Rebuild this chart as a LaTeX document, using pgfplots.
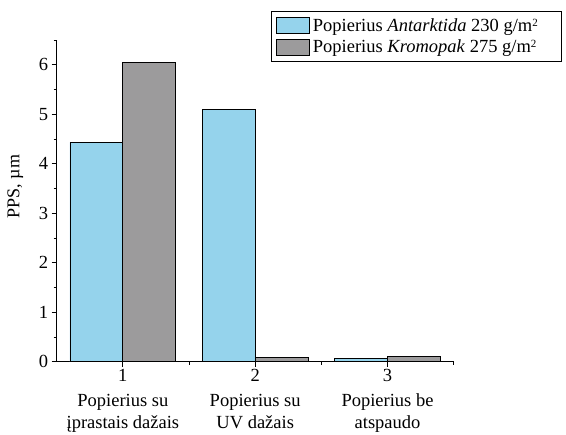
\documentclass[border=0pt]{standalone}
\usepackage{pgfplots}
\pgfplotsset{compat=1.18}
\usepackage{fontspec}
\setmainfont{Liberation Serif}
\definecolor{antblue}{RGB}{149,211,236}
\definecolor{kromgrey}{RGB}{156,155,156}
\begin{document}
\begin{tikzpicture}[x=1pt,y=1pt]
\begin{axis}[
  at={(0,0)}, anchor=south west,
  scale only axis, width=397pt, height=321.7pt,
  xmin=0.5, xmax=3.5, ymin=0, ymax=6.5,
  axis lines=left, axis line style={-, line width=0.8pt},
  tick align=outside, tick style={black, line width=0.8pt},
  major tick length=5pt, minor tick length=3pt,
  xtick={1,2,3}, minor xtick={1.5,2.5,3.5},
  ytick={0,1,...,6}, minor ytick={0.5,1.5,...,6.5},
  xticklabels={{1\\[4pt]Popierius su\\įprastais dažais},
               {2\\[4pt]Popierius su\\UV dažais},
               {3\\[4pt]Popierius be\\atspaudo}},
  xticklabel style={align=center, font=\fontsize{18.5}{21.5}\selectfont, inner ysep=2pt},
  yticklabel style={font=\fontsize{18.5}{21.5}\selectfont},
  /pgf/number format/assume math mode=true,
  ylabel={PPS, µm},
  every axis y label/.style={at={(axis description cs:-0.104,0.545)}, rotate=90, anchor=center, font=\fontsize{18}{21}\selectfont},
  ybar, bar width=0.4,
  legend style={at={(axis description cs:1.2735,1.09)}, anchor=north east,
    draw=black, line width=0.8pt, font=\fontsize{18.5}{21.5}\selectfont,
    legend cell align=left, row sep=3pt, inner xsep=5pt, inner ysep=5pt,
    nodes={inner xsep=3pt}},
  legend image code/.code={\draw[#1, draw=black, line width=0.8pt] (0pt,-8pt) rectangle (33pt,8pt);},
]
\addplot[fill=antblue, draw=black, line width=0.8pt, bar shift=-0.2]
  coordinates {(1,4.43) (2,5.09) (3,0.07)};
\addlegendentry{Popierius \textit{Antarktida} 230 g/m\raisebox{0.55ex}{\fontsize{11}{12}\selectfont 2}\hspace*{16pt}}
\addplot[fill=kromgrey, draw=black, line width=0.8pt, bar shift=0.2]
  coordinates {(1,6.04) (2,0.08) (3,0.11)};
\addlegendentry{Popierius \textit{Kromopak} 275 g/m\raisebox{0.55ex}{\fontsize{11}{12}\selectfont 2}}
\end{axis}
\pgfresetboundingbox
\useasboundingbox (-56.7,-73.3) rectangle (509.3,361.7);
\end{tikzpicture}
\end{document}
